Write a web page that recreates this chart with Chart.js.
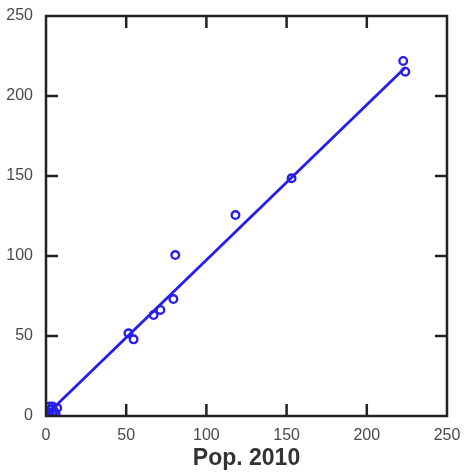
<!DOCTYPE html>
<html>
<head>
<meta charset="utf-8">
<script src="https://cdn.jsdelivr.net/npm/chart.js@4/dist/chart.umd.min.js"></script>
<style>
  html, body { margin: 0; padding: 0; background: #fff; }
  #wrap { width: 467px; height: 474px; }
</style>
</head>
<body>
<div id="wrap"><canvas id="scatter"></canvas></div>
<script>
// population per area vs. 2010 population
const pop2010 = [0, 1, 2, 3, 4, 5, 6, 2, 7, 4, 51.4, 54.6, 67.1, 71.3, 79.4, 80.6, 118.1, 153.1, 222.7, 224];
const popNow  = [0, 2, 1, 4, 6, 3, 1, 6, 5, 2, 51.7, 47.9, 63.1, 66.3, 73.1, 100.6, 125.6, 148.6, 221.9, 215.2];

// fitted line end points
const fitX = [0, 224];
const fitY = [0.5, 217.8];

const axisTicks = [0, 50, 100, 150, 200, 250];
const blue = 'rgb(40, 30, 235)';

// frame round the plot with inward ticks on all four sides
const framePlugin = {
    id: 'frame',
    afterDraw(chart) {
        const ctx = chart.ctx;
        const a = chart.chartArea;
        const xs = chart.scales.x, ys = chart.scales.y;
        const len = 12;
        ctx.save();
        ctx.strokeStyle = '#222';
        ctx.lineWidth = 2.5;
        ctx.strokeRect(a.left, a.top, a.right - a.left, a.bottom - a.top);
        ctx.beginPath();
        axisTicks.slice(1, -1).forEach((v) => {
            const px = xs.getPixelForValue(v);
            const py = ys.getPixelForValue(v);
            ctx.moveTo(px, a.bottom); ctx.lineTo(px, a.bottom - len);
            ctx.moveTo(px, a.top); ctx.lineTo(px, a.top + len);
            ctx.moveTo(a.left, py); ctx.lineTo(a.left + len, py);
            ctx.moveTo(a.right, py); ctx.lineTo(a.right - len, py);
        });
        ctx.stroke();
        ctx.restore();
    }
};

const tickFont = { family: 'Liberation Sans, Arial, sans-serif', size: 16 };

new Chart(document.getElementById('scatter'), {
    type: 'scatter',
    data: {
        datasets: [
            {
                data: pop2010.map((x, i) => ({ x: x, y: popNow[i] })),
                pointStyle: 'circle',
                pointRadius: 3.8,
                pointBorderWidth: 2.4,
                borderColor: blue,
                backgroundColor: 'rgba(0,0,0,0)',
            },
            {
                type: 'line',
                data: fitX.map((x, i) => ({ x: x, y: fitY[i] })),
                borderColor: blue,
                borderWidth: 2.8,
                pointRadius: 0,
                fill: false,
            },
        ],
    },
    options: {
        responsive: true,
        maintainAspectRatio: false,
        animation: false,
        layout: { padding: { left: 0, top: 16, right: 20, bottom: 0 } },
        plugins: {
            legend: { display: false },
            tooltip: { enabled: false },
        },
        scales: {
            x: {
                type: 'linear',
                min: 0,
                max: 250,
                afterBuildTicks: (s) => { s.ticks = axisTicks.map((v) => ({ value: v })); },
                afterFit: (s) => { s.height = 58; },
                grid: { display: false },
                border: { display: false },
                ticks: { color: '#4a4a4a', font: tickFont, padding: 2, maxRotation: 0 },
                title: {
                    display: true,
                    text: 'Pop. 2010',
                    color: '#333',
                    font: { family: 'Liberation Sans, Arial, sans-serif', size: 23, weight: 'bold' },
                    padding: { top: 0, bottom: 2 },
                },
            },
            y: {
                type: 'linear',
                min: 0,
                max: 250,
                afterBuildTicks: (s) => { s.ticks = axisTicks.map((v) => ({ value: v })); },
                afterFit: (s) => { s.width = 46; },
                grid: { display: false },
                border: { display: false },
                ticks: { color: '#4a4a4a', font: tickFont, padding: 5 },
            },
        },
    },
    plugins: [framePlugin],
});
</script>
</body>
</html>
